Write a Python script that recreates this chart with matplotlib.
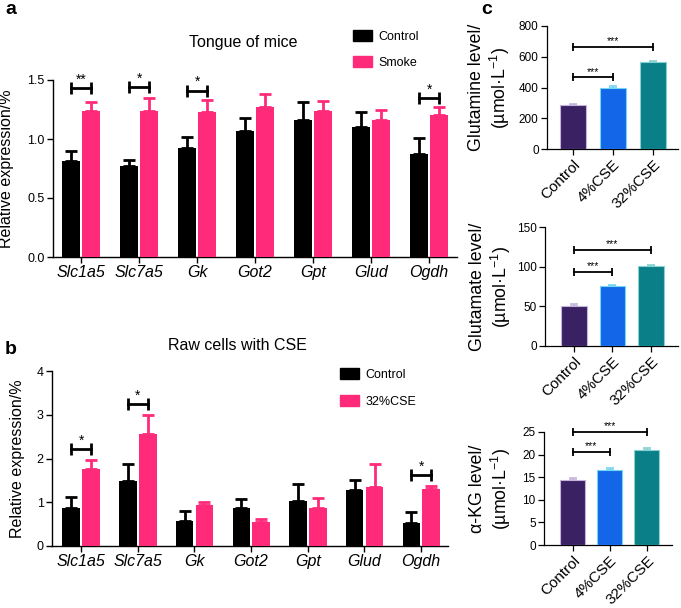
import numpy as np
import matplotlib
matplotlib.use("Agg")
import matplotlib.pyplot as plt
from matplotlib.patches import Patch

plt.rcParams["font.family"] = ["Liberation Sans", "DejaVu Sans"]
plt.rcParams["mathtext.fontset"] = "custom"
plt.rcParams["mathtext.rm"] = "Liberation Sans"
plt.rcParams["mathtext.it"] = "Liberation Sans:italic"

genes = ["Slc1a5", "Slc7a5", "Gk", "Got2", "Gpt", "Glud", "Ogdh"]

# panel a: tongue of mice
a_control = [0.81, 0.77, 0.92, 1.07, 1.16, 1.10, 0.87]
a_control_err = [0.09, 0.05, 0.10, 0.11, 0.15, 0.13, 0.14]
a_smoke = [1.24, 1.24, 1.23, 1.27, 1.24, 1.16, 1.20]
a_smoke_err = [0.07, 0.11, 0.10, 0.11, 0.08, 0.09, 0.07]
a_sig_idx = [0, 1, 2, 6]
a_sig_y = [1.43, 1.44, 1.41, 1.345]
a_sig_txt = ["**", "*", "*", "*"]

# panel b: raw cells with CSE
b_control = [0.88, 1.48, 0.57, 0.88, 1.04, 1.27, 0.53]
b_control_err = [0.24, 0.40, 0.22, 0.19, 0.37, 0.25, 0.25]
b_cse = [1.75, 2.55, 0.94, 0.55, 0.88, 1.36, 1.31]
b_cse_err = [0.22, 0.44, 0.07, 0.07, 0.21, 0.51, 0.07]
b_sig_idx = [0, 1, 6]
b_sig_y = [2.22, 3.24, 1.62]
b_sig_txt = ["*", "*", "*"]

# panel c: metabolite levels
groups_c = ["Control", "4%CSE", "32%CSE"]
glutamine = [284, 395, 564]
glutamine_err = [11, 13, 10]
glutamate = [51, 75.6, 101.4]
glutamate_err = [2, 1, 0.8]
akg = [14.45, 16.7, 21.1]
akg_err = [0.3, 0.4, 0.4]
glutamine_sig = [466, 663]
glutamate_sig = [93, 121]
akg_sig = [20.6, 25.0]

PINK = "#ff2a7a"
C_COLORS = ["#3a2163", "#1466e8", "#0a7f87"]
C_EDGES = ["#c4b4dc", "#74d6f2", "#86d2d2"]

W, H = 681, 608
fig = plt.figure(figsize=(W / 100, H / 100), dpi=100)


def px_axes(left, right, top, bottom):
    return fig.add_axes([left / W, 1 - bottom / H, (right - left) / W, (bottom - top) / H])


def style(ax, lw=1.0):
    for s in ["top", "right"]:
        ax.spines[s].set_visible(False)
    for s in ["left", "bottom"]:
        ax.spines[s].set_linewidth(lw)
    ax.tick_params(direction="out", length=4, width=lw, pad=2)


def bracket(ax, x1, x2, y, txt, lw=2.0, ms=9, fs=10, off=1):
    ax.plot([x1, x2], [y, y], color="black", lw=lw, clip_on=False, zorder=5)
    ax.plot([x1, x2], [y, y], ls="none", marker="|", ms=ms, mew=lw,
            color="black", clip_on=False, zorder=5)
    ax.annotate(txt, ((x1 + x2) / 2, y), xytext=(0, off), textcoords="offset points",
                ha="center", va="bottom", fontsize=fs)


def gene_panel(ax, ctrl, ctrl_err, trt, trt_err, xlim, ylim, yticks, ylabels,
               sig_idx, sig_y, sig_txt, width=0.31):
    x = np.arange(len(genes))
    xc, xt = x - 0.17, x + 0.18
    ax.bar(xc, ctrl, width, color="black", zorder=3)
    ax.bar(xt, trt, width, color=PINK, zorder=3)
    ax.errorbar(xc, ctrl, yerr=[np.zeros(len(x)), ctrl_err], fmt="none",
                ecolor="black", elinewidth=2, capsize=4, capthick=2, zorder=2)
    ax.errorbar(xt, trt, yerr=[np.zeros(len(x)), trt_err], fmt="none",
                ecolor=PINK, elinewidth=2, capsize=4, capthick=2, zorder=2)
    for i, y, t in zip(sig_idx, sig_y, sig_txt):
        bracket(ax, xc[i], xt[i], y, t)
    ax.set_xlim(*xlim)
    ax.set_ylim(*ylim)
    ax.set_yticks(yticks)
    ax.set_yticklabels(ylabels, fontsize=9)
    ax.set_xticks(x)
    ax.set_xticklabels(genes, fontsize=11.5, style="italic")
    ax.set_ylabel("Relative expression/%", fontsize=11.5)
    style(ax)


# ---- panel a
ax_a = px_axes(53, 457, 80, 257)
gene_panel(ax_a, a_control, a_control_err, a_smoke, a_smoke_err,
           (-0.483, 6.483), (0, 1.5), [0, 0.5, 1.0, 1.5],
           ["0.0", "0.5", "1.0", "1.5"], a_sig_idx, a_sig_y, a_sig_txt)
ax_a.yaxis.set_label_coords(-0.096, 0.5)
fig.text(243 / W, 1 - 42 / H, "Tongue of mice", ha="center", va="center", fontsize=11.5)
ax_a.legend(handles=[Patch(color="black", label="Control"), Patch(color=PINK, label="Smoke")],
            loc="upper left", bbox_to_anchor=(342 / W, 1 - 19 / H),
            bbox_transform=fig.transFigure, frameon=False, fontsize=9,
            handlelength=1.5, handleheight=1.0, labelspacing=1.0, handletextpad=0.5)

# ---- panel b
ax_b = px_axes(52, 448, 371, 546)
gene_panel(ax_b, b_control, b_control_err, b_cse, b_cse_err,
           (-0.51, 6.476), (0, 4), [0, 1, 2, 3, 4], ["0", "1", "2", "3", "4"],
           b_sig_idx, b_sig_y, b_sig_txt)
ax_b.yaxis.set_label_coords(-0.068, 0.5)
fig.text(237 / W, 1 - 345 / H, "Raw cells with CSE", ha="center", va="center", fontsize=11.5)
ax_b.legend(handles=[Patch(color="black", label="Control"), Patch(color=PINK, label="32%CSE")],
            loc="upper left", bbox_to_anchor=(329 / W, 1 - 357 / H),
            bbox_transform=fig.transFigure, frameon=False, fontsize=9,
            handlelength=1.5, handleheight=1.0, labelspacing=1.1, handletextpad=0.5)


# ---- panel c
def level_panel(ax, vals, errs, sig, ylim, yticks, ylabel, xlim, width=0.67):
    x = np.arange(len(groups_c))
    ax.bar(x, vals, width, color=C_COLORS, edgecolor=C_EDGES, linewidth=0.8, zorder=3)
    for i in range(len(x)):
        ax.errorbar(x[i], vals[i], yerr=[[0], [errs[i]]], fmt="none", ecolor=C_EDGES[i],
                    elinewidth=1.2, capsize=3, capthick=1.2, zorder=2)
    bracket(ax, 0, 1, sig[0], "***", lw=1.3, ms=6, fs=7.5, off=0.5)
    bracket(ax, 0, 2, sig[1], "***", lw=1.3, ms=6, fs=7.5, off=0.5)
    ax.set_xlim(*xlim)
    ax.set_ylim(*ylim)
    ax.set_yticks(yticks)
    ax.set_yticklabels([str(t) for t in yticks], fontsize=8.5)
    ax.set_xticks(x)
    ax.set_xticklabels(groups_c, fontsize=11, rotation=45, ha="right",
                       rotation_mode="anchor")
    ax.set_ylabel(ylabel, fontsize=12.8, linespacing=1.15)
    style(ax, lw=0.9)


unit = "\n(µmol·L$^{-1}$)"
ax_c1 = px_axes(547, 678, 26, 149)
level_panel(ax_c1, glutamine, glutamine_err, glutamine_sig, (0, 800),
            [0, 200, 400, 600, 800], "Glutamine level/" + unit, (-0.65, 2.625))
ax_c1.yaxis.set_label_coords(-0.265, 0.5)
ax_c2 = px_axes(545, 678, 227, 346)
level_panel(ax_c2, glutamate, glutamate_err, glutamate_sig, (0, 150),
            [0, 50, 100, 150], "Glutamate level/" + unit, (-0.75, 2.7))
ax_c2.yaxis.set_label_coords(-0.24, 0.5)
ax_c3 = px_axes(544, 672, 432, 545)
level_panel(ax_c3, akg, akg_err, akg_sig, (0, 25),
            [0, 5, 10, 15, 20, 25], "α-KG level/" + unit, (-0.78, 2.68))
ax_c3.yaxis.set_label_coords(-0.24, 0.5)

# panel letters
fig.text(5 / W, 1 - 9 / H, "a", fontsize=14, fontweight="bold", va="center")
fig.text(5 / W, 1 - 350 / H, "b", fontsize=14, fontweight="bold", va="center")
fig.text(481 / W, 1 - 9 / H, "c", fontsize=14, fontweight="bold", va="center")

fig.savefig("out.png", dpi=100)
